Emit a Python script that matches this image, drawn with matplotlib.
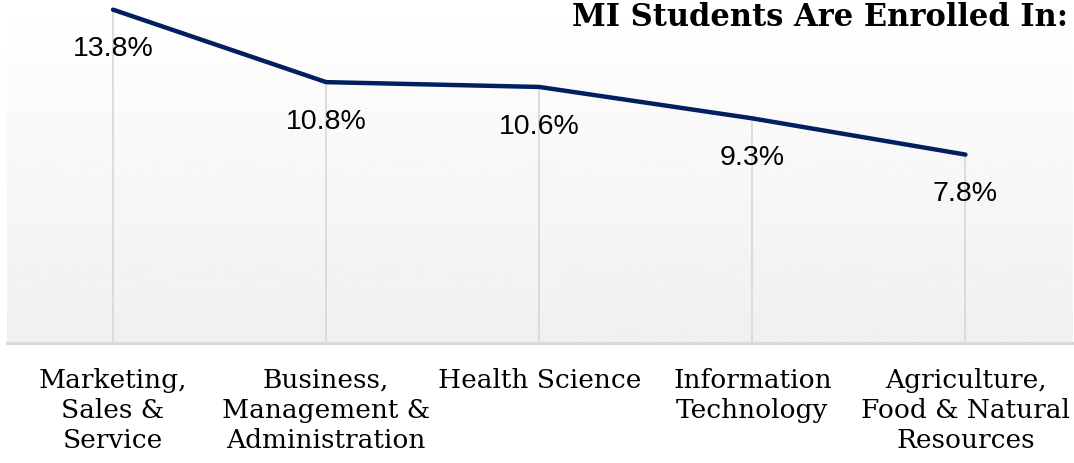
import numpy as np
import matplotlib
matplotlib.use("Agg")
import matplotlib.pyplot as plt
from matplotlib.transforms import offset_copy

# dados
categories = [
    "Marketing,\nSales &\nService",
    "Business,\nManagement &\nAdministration",
    "Health Science",
    "Information\nTechnology",
    "Agriculture,\nFood & Natural\nResources",
]
values = [13.8, 10.8, 10.6, 9.3, 7.8]
value_labels = ["13.8%", "10.8%", "10.6%", "9.3%", "7.8%"]
title = "MI Students Are Enrolled In:"

line_color = "#002060"
grid_color = "#d9d9d9"

fig = plt.figure(figsize=(10.74, 4.63), dpi=100)
ax = fig.add_axes([6.5 / 1074, 1 - 343 / 463, 1065.5 / 1074, 343 / 463])

x = np.arange(len(values))
ax.set_xlim(-0.5, len(values) - 0.5)
ax.set_ylim(0, 14.2)

# fundo em degradê (branco -> cinza claro)
grad = np.linspace(1.0, 0.94, 256).reshape(-1, 1)
ax.imshow(grad, cmap="gray", vmin=0, vmax=1, aspect="auto",
          extent=(-0.5, len(values) - 0.5, 0, 14.2), origin="upper", zorder=0)

# linhas de queda até a base
ax.vlines(x, 0, values, color=grid_color, lw=1.3, zorder=1)
ax.axhline(0, color=grid_color, lw=2.2, zorder=1, clip_on=False)

ax.plot(x, values, color=line_color, lw=3.2, solid_capstyle="round",
        solid_joinstyle="round", zorder=3)

for xi, v, lab in zip(x, values, value_labels):
    ax.annotate(lab, (xi, v), xytext=(0, -28.5), textcoords="offset points",
                ha="center", va="center", fontsize=20.5,
                family="Liberation Sans", color="black", zorder=4)

ax.set_xticks([])
ax.set_yticks([])
for s in ax.spines.values():
    s.set_visible(False)

# rótulos das categorias abaixo da base
cat_trans = offset_copy(ax.get_xaxis_transform(), fig=fig, x=0, y=-18, units="points")
for xi, cat in zip(x, categories):
    ax.text(xi, 0, cat, transform=cat_trans,
            ha="center", va="top", fontsize=19, family="DejaVu Serif",
            linespacing=1.25, color="black")

fig.text(1068 / 1074, 1 - 26 / 463, title, ha="right", va="baseline",
         fontsize=22, fontweight="bold", family="DejaVu Serif", color="black")

fig.savefig("out.png", dpi=100)
plt.close(fig)
